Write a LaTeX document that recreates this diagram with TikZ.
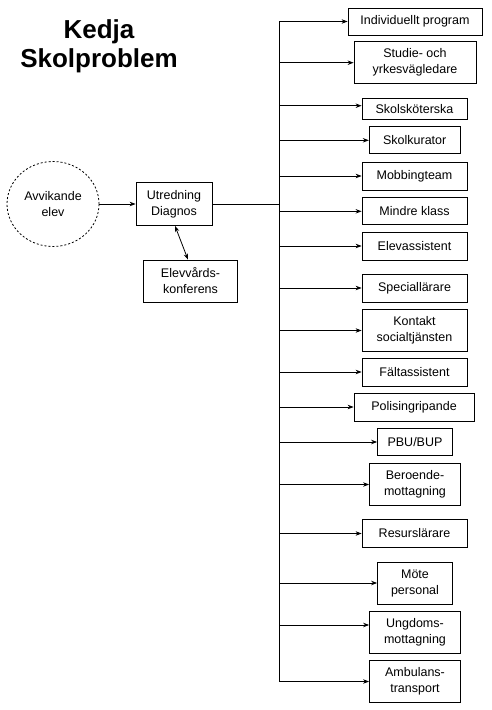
\documentclass[tikz,border=0pt]{standalone}
\usepackage{fontspec}
\setmainfont{Liberation Sans}
\usepackage{tikz}
\usetikzlibrary{shapes.geometric, arrows.meta, positioning, calc}
\tikzstyle{arrow} = [->, >={Stealth[length=6pt, width=4.5pt]}]

\begin{document}
\begin{tikzpicture}[
  x=1pt, y=-1pt, line width=0.8pt,
  box/.style={draw, inner sep=0pt, minimum width=105pt, minimum height=28pt, align=center, font=\fontsize{12.5}{16}\selectfont},
  tall/.style={minimum height=42pt},
  start/.style={draw, ellipse, dash pattern=on 2pt off 2pt, minimum width=92pt, minimum height=85pt, align=center, font=\fontsize{12.5}{16}\selectfont}
]
\useasboundingbox (0,0) rectangle (491,710);

% Title
\node[font=\fontsize{26}{29}\selectfont\bfseries, align=center] (Title) at (99,46) {Kedja\\Skolproblem};

% Left part
\node[start] (Elev) at (53,204) {Avvikande\\elev};
\node[box, minimum width=76pt, minimum height=43pt] (Utred) at (174,204) {Utredning\\Diagnos};
\node[box, tall, minimum width=94pt] (Konf) at (190.5,281) {Elevvårds-\\konferens};
\coordinate (Trunk) at (279,204);

% Measures on the right
\node[box, minimum width=134pt, minimum height=27pt] (Prog) at (415,21.5) {Individuellt program};
\node[box, tall, minimum width=122pt] (Syv) at (415,62.7) {Studie- och\\yrkesvägledare};
\node[box, minimum height=21pt] (Sjuk) at (414.5,108.7) {Skolsköterska};
\node[box, minimum width=91pt, minimum height=27pt] (Kur) at (414.7,140.3) {Skolkurator};
\node[box] (Mobb) at (414.5,176) {Mobbingteam};
\node[box, minimum height=27pt] (Klass) at (414.5,211.3) {Mindre klass};
\node[box] (Ass) at (414.5,246) {Elevassistent};
\node[box] (Spec) at (414.5,288) {Speciallärare};
\node[box, tall] (Soc) at (414.5,330.5) {Kontakt\\socialtjänsten};
\node[box] (Falt) at (414.5,372) {Fältassistent};
\node[box, minimum width=120pt] (Pol) at (414,407) {Polisingripande};
\node[box, minimum width=75pt, minimum height=27pt] (Bup) at (415,442) {PBU/BUP};
\node[box, tall, minimum width=91pt] (Ber) at (415,484.5) {Beroende-\\mottagning};
\node[box] (Res) at (414.5,533.5) {Resurslärare};
\node[box, tall, minimum width=75pt] (Mote) at (415,583) {Möte\\personal};
\node[box, tall, minimum width=91pt] (Ung) at (415,632) {Ungdoms-\\mottagning};
\node[box, tall, minimum width=91pt] (Amb) at (415,681.5) {Ambulans-\\transport};

% Arrows
\draw[arrow] (Elev) -- (Utred);
\draw[arrow, <->] ([xshift=1pt]Utred.south) -- ([xshift=-2.5pt]Konf.north);
\draw (Utred.east) -- (Trunk);
\draw (Prog.west -| Trunk) -- (Amb.west -| Trunk);
\draw[arrow] (Prog.west -| Trunk) -- (Prog.west);
\draw[arrow] (Syv.west -| Trunk) -- (Syv.west);
\draw[arrow] ([yshift=3pt]Sjuk.west -| Trunk) -- ([yshift=3pt]Sjuk.west);
\draw[arrow] (Kur.west -| Trunk) -- (Kur.west);
\draw[arrow] (Mobb.west -| Trunk) -- (Mobb.west);
\draw[arrow] (Klass.west -| Trunk) -- (Klass.west);
\draw[arrow] (Ass.west -| Trunk) -- (Ass.west);
\draw[arrow] (Spec.west -| Trunk) -- (Spec.west);
\draw[arrow] (Soc.west -| Trunk) -- (Soc.west);
\draw[arrow] (Falt.west -| Trunk) -- (Falt.west);
\draw[arrow] (Pol.west -| Trunk) -- (Pol.west);
\draw[arrow] (Bup.west -| Trunk) -- (Bup.west);
\draw[arrow] (Ber.west -| Trunk) -- (Ber.west);
\draw[arrow] (Res.west -| Trunk) -- (Res.west);
\draw[arrow] (Mote.west -| Trunk) -- (Mote.west);
\draw[arrow] ([yshift=7pt]Ung.west -| Trunk) -- ([yshift=7pt]Ung.west);
\draw[arrow] (Amb.west -| Trunk) -- (Amb.west);

\end{tikzpicture}
\end{document}
